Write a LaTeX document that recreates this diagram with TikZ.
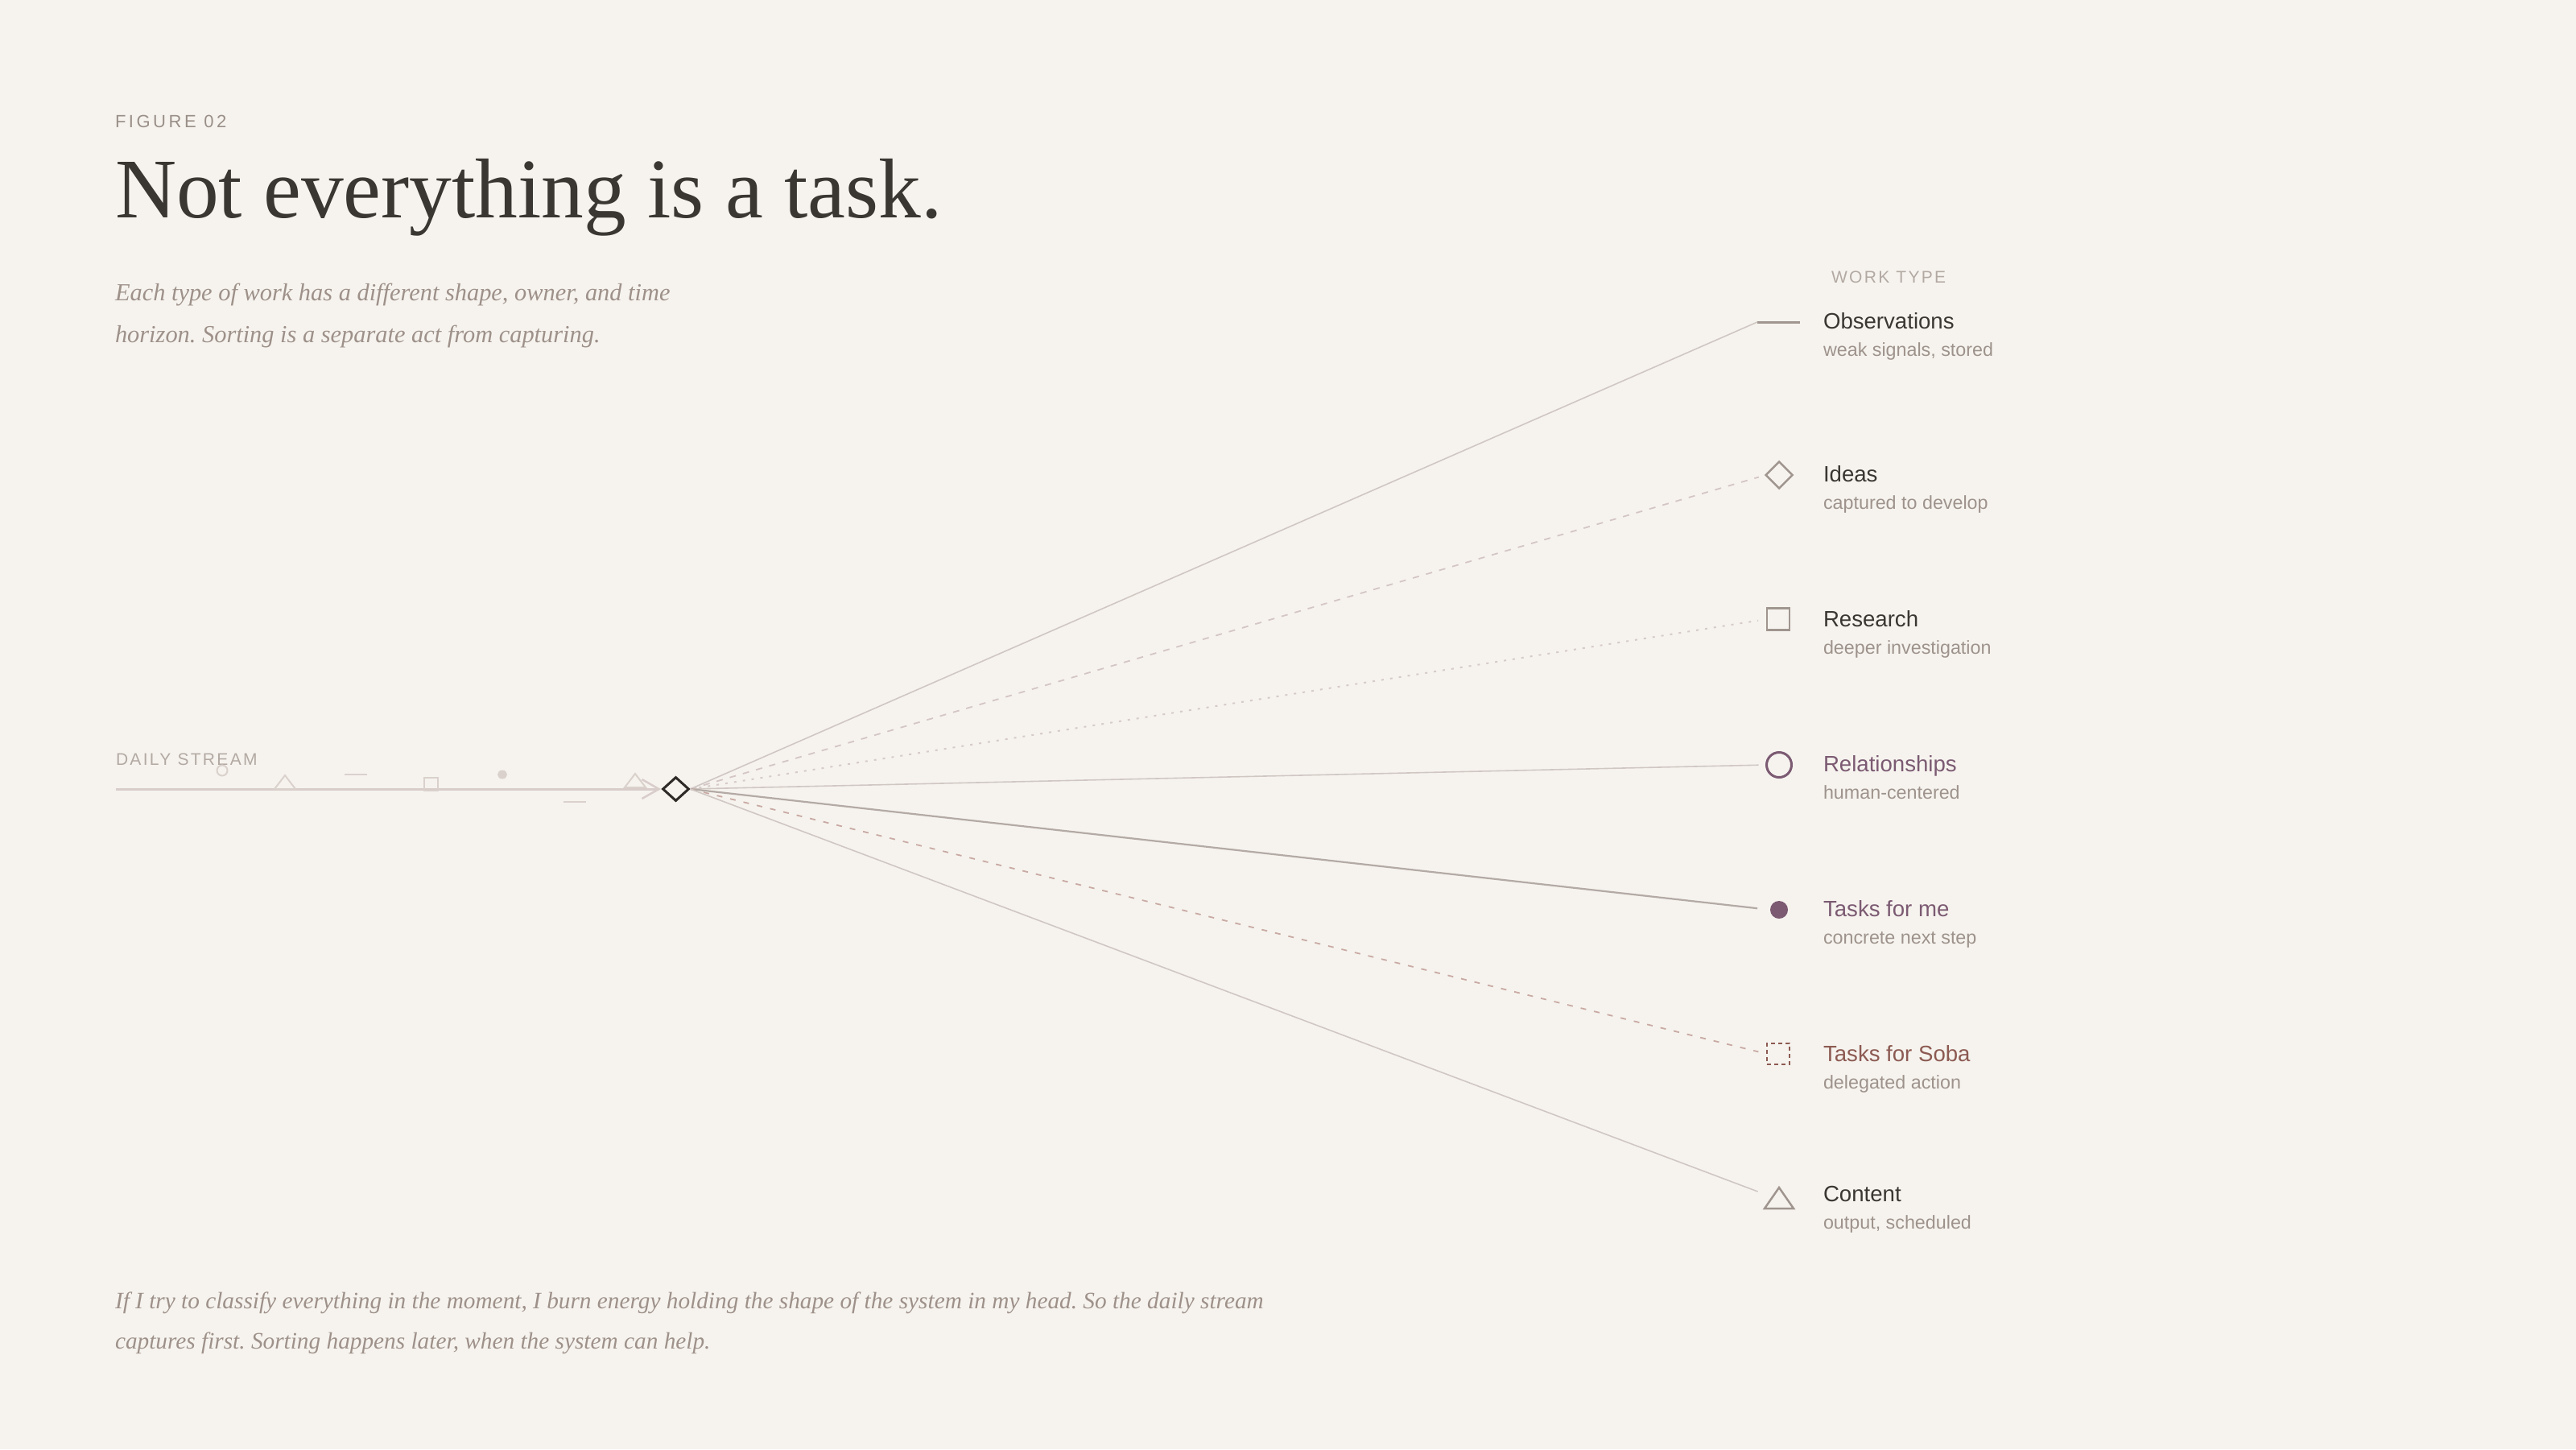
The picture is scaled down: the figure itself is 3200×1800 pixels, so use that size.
\documentclass[tikz,border=0pt]{standalone}
\usepackage{fontspec}
\setmainfont{Liberation Serif}
\setsansfont{Liberation Sans}
\newfontfamily\trackA[LetterSpace=16]{Liberation Sans}
\newfontfamily\trackB[LetterSpace=11]{Liberation Sans}
\usetikzlibrary{shapes.geometric}
\frenchspacing
\definecolor{bg}{HTML}{F6F3EE}
\definecolor{ink}{HTML}{3A3632}
\definecolor{figc}{HTML}{9A8F88}
\definecolor{itc}{HTML}{9E918A}
\definecolor{headc}{HTML}{B3A9A3}
\definecolor{subc}{HTML}{9E938C}
\definecolor{purp}{HTML}{7B5A72}
\definecolor{rust}{HTML}{8C5A52}
\definecolor{streamc}{HTML}{D9CDCA}
\definecolor{shapec}{HTML}{DAD1CC}
\definecolor{lc}{HTML}{D0C7C3}
\definecolor{ideasc}{HTML}{D4C6C4}
\definecolor{resc}{HTML}{D6CBC8}
\definecolor{mec}{HTML}{B4AAA5}
\definecolor{sobac}{HTML}{C9AAA4}
\definecolor{iconc}{HTML}{A0958F}
\definecolor{hubc}{HTML}{2E2A27}
\tikzset{
  lbl/.style={anchor=base west, inner sep=0, outer sep=0},
  rowtitle/.style={lbl, font=\sffamily\fontsize{27.6}{32}\selectfont, text=ink},
  rowsub/.style={lbl, font=\sffamily\fontsize{23.3}{28}\selectfont, text=subc},
  italictext/.style={lbl, font=\itshape\fontsize{30.4}{36}\selectfont, text=itc},
  foottext/.style={lbl, font=\itshape\fontsize{29.3}{36}\selectfont, text=itc},
  conn/.style={line width=1.6pt},
  streamline/.style={draw=streamc, line width=3pt},
  streamshape/.style={draw=shapec, line width=2pt},
  icon/.style={draw=iconc, line width=2.5pt, inner sep=0, outer sep=0},
}
\begin{document}
\begin{tikzpicture}[x=1pt,y=-1pt]
\useasboundingbox (0,0) rectangle (3200,1800);
\fill[bg] (0,0) rectangle (3200,1800);

% header texts
\node[lbl, font=\trackA\fontsize{22}{26}\selectfont, text=figc] (fig) at (143,158) {FIGURE 02};
\node[lbl, font=\fontsize{105.4}{120}\selectfont, text=ink] (title) at (143,270) {Not everything is a task.};
\node[italictext] (sub1) at (143,373) {Each type of work has a different shape, owner, and time};
\node[italictext] (sub2) at (143,425) {horizon. Sorting is a separate act from capturing.};

\node[foottext] (foot1) at (143,1625) {If I try to classify everything in the moment, I burn energy holding the shape of the system in my head. So the daily stream};
\node[foottext] (foot2) at (143,1675) {captures first. Sorting happens later, when the system can help.};

% daily stream
\node[lbl, font=\trackB\fontsize{21}{25}\selectfont, text=headc] (daily) at (144,950) {DAILY STREAM};
\node[diamond, draw=hubc, line width=3pt, minimum width=33pt, minimum height=30pt, inner sep=0] (hub) at (839.5,980) {};
\coordinate (streamstart) at (144,980);
\draw[streamline] (streamstart) -- ([xshift=-3pt]hub.west);
\draw[streamline, line width=2.5pt] ([xshift=-24pt,yshift=12pt]hub.west) -- ([xshift=-3pt]hub.west) -- ([xshift=-24pt,yshift=-12pt]hub.west);

\draw[streamshape] (276,957) circle[radius=6.5];
\draw[streamshape] (341,980) -- (367,980) -- (354,963) -- cycle;
\draw[streamshape, line width=2.5pt] (428,962) -- (456,962);
\draw[streamshape] (527,966) rectangle (544,982);
\fill[shapec] (624,962) ellipse[x radius=6, y radius=5.5];
\draw[streamshape, line width=2.5pt] (700,996) -- (728,996);
\draw[streamshape] (776,978) -- (802,978) -- (789,961) -- cycle;

% work type column
\node[lbl, font=\trackB\fontsize{21}{25}\selectfont, text=headc] (worktype) at (2275,351) {WORK TYPE};

\node[inner sep=0, outer sep=0, minimum width=53pt, minimum height=3pt] (obs) at (2209.5,400) {};
\draw[draw=iconc, line width=3pt] (obs.west) -- (obs.east);
\node[icon, diamond, minimum width=33pt, minimum height=33pt] (ideas) at (2210,590) {};
\node[icon, rectangle, minimum width=28pt, minimum height=27pt] (research) at (2209,769) {};
\node[icon, circle, draw=purp, line width=3pt, minimum size=31pt] (rel) at (2210,950) {};
\node[circle, fill=purp, inner sep=0, outer sep=0, minimum size=22pt] (me) at (2210,1130) {};
\node[icon, rectangle, draw=rust, dash pattern=on 5pt off 4pt, minimum width=28pt, minimum height=26pt] (soba) at (2209,1309) {};
\node[inner sep=0, outer sep=0, minimum width=36pt, minimum height=26pt] (content) at (2210,1488) {};
\draw[draw=iconc, line width=2.5pt] (content.south west) -- (content.south east) -- (content.north) -- cycle;

% connectors
\draw[conn, draw=lc] (hub.east) -- (obs.west);
\draw[conn, draw=ideasc, line width=1.8pt, dash pattern=on 8pt off 9pt, shorten >=9pt] (hub.east) -- (ideas.west);
\draw[conn, draw=resc, line width=2pt, dash pattern=on 3pt off 8pt, shorten >=11pt] (hub.east) -- (research.west);
\draw[conn, draw=lc, shorten >=10pt] (hub.east) -- (rel.west);
\draw[conn, draw=mec, line width=2.2pt, shorten >=16pt] (hub.east) -- (me.west);
\draw[conn, draw=sobac, line width=1.8pt, dash pattern=on 7pt off 10pt, shorten >=11pt] (hub.east) -- (soba.west);
\draw[conn, draw=lc, shorten >=9pt] (hub.east) -- (content.165);

% labels
\node[rowtitle] (tobs) at (2265,408) {Observations};
\node[rowsub] (sobs) at (2265,442) {weak signals, stored};
\node[rowtitle] (tideas) at (2265,598) {Ideas};
\node[rowsub] (sideas) at (2265,632) {captured to develop};
\node[rowtitle] (tres) at (2265,778) {Research};
\node[rowsub] (sres) at (2265,812) {deeper investigation};
\node[rowtitle, text=purp] (trel) at (2265,958) {Relationships};
\node[rowsub] (srel) at (2265,992) {human-centered};
\node[rowtitle, text=purp] (tme) at (2265,1138) {Tasks for me};
\node[rowsub] (sme) at (2265,1172) {concrete next step};
\node[rowtitle, text=rust] (tsoba) at (2265,1318) {Tasks for Soba};
\node[rowsub] (ssoba) at (2265,1352) {delegated action};
\node[rowtitle] (tcont) at (2265,1492) {Content};
\node[rowsub] (scont) at (2265,1526) {output, scheduled};
\end{tikzpicture}
\end{document}
